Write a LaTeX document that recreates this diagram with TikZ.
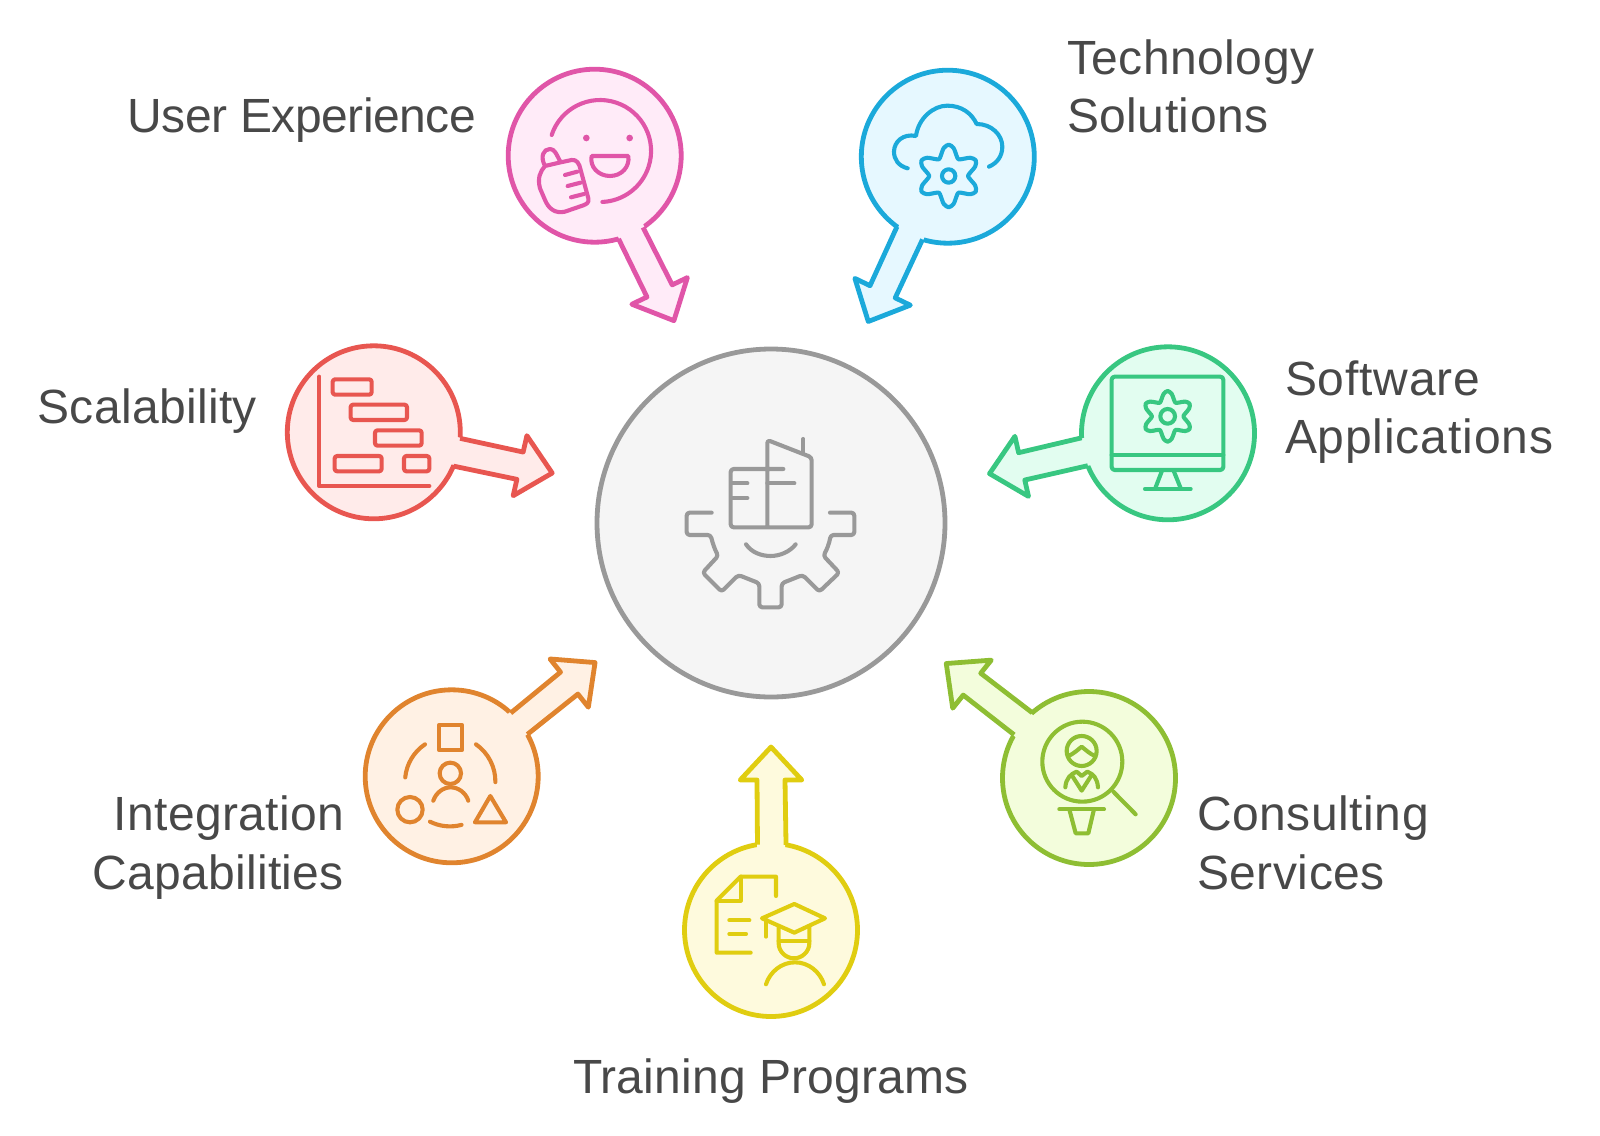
\documentclass[tikz,border=0pt]{standalone}
\usepackage{fontspec}
\setmainfont{Liberation Sans}
\definecolor{pinkline}{HTML}{E055A8}
\definecolor{pinkfill}{HTML}{FFEBF8}
\definecolor{blueline}{HTML}{1BA9DA}
\definecolor{bluefill}{HTML}{E6F8FF}
\definecolor{redline}{HTML}{E85650}
\definecolor{redfill}{HTML}{FFEBEA}
\definecolor{greenline}{HTML}{38C781}
\definecolor{greenfill}{HTML}{E2FDF0}
\definecolor{orangeline}{HTML}{E0842E}
\definecolor{orangefill}{HTML}{FFF1E4}
\definecolor{limeline}{HTML}{8EBE33}
\definecolor{limefill}{HTML}{F3FDDC}
\definecolor{yellowline}{HTML}{E0CD10}
\definecolor{yellowfill}{HTML}{FEFADD}
\definecolor{hubline}{HTML}{999999}
\definecolor{hubfill}{HTML}{F5F5F5}
\definecolor{labeltext}{HTML}{484848}
\tikzset{
  satellite/.style={circle,draw,inner sep=0pt,outer sep=0pt,minimum size=173pt,line width=4.8pt},
  hubnode/.style={circle,draw=hubline,fill=hubfill,inner sep=0pt,outer sep=0pt,minimum size=348pt,line width=4.8pt},
  lbl/.style={inner sep=0pt,outer sep=0pt,text=labeltext,font=\fontsize{48}{58.5}\selectfont\addfontfeature{LetterSpace=#1}},
  icon/.style n args={3}{shift={(#1,-#2)},x=0.3333pt,y=-0.3333pt,color=#3,line width=4.1pt,line cap=round,line join=round}
}
\newcommand{\satarrow}[3]{
  \pgfmathanglebetweenpoints{\pgfpointanchor{#1}{center}}{\pgfpointanchor{hub}{center}}
  \let\arrowangle\pgfmathresult
  \pgfmathsetmacro\angleup{\arrowangle+9.3}
  \pgfmathsetmacro\angledown{\arrowangle-9.3}
  \begin{scope}[shift={(#1.center)},rotate=\arrowangle]
    \fill[#3] (80,14) -- (150,14) -- (150,30.8) -- (183,0) -- (150,-30.8) -- (150,-14) -- (80,-14) -- cycle;
    \draw[#2,line width=4.8pt,line join=round] (#1.\angleup) -- (150,14) -- (150,30.8) -- (183,0) -- (150,-30.8) -- (150,-14) -- (#1.\angledown);
  \end{scope}
}
\newcommand{\gearicon}[5]{
  \draw plot[smooth cycle,samples at={0,10,...,350}] ({#1+(#3+#4)/2*cos(\x)+(#3-#4)/2*cos(6*(\x-90))*cos(\x)},{#2+(#3+#4)/2*sin(\x)+(#3-#4)/2*cos(6*(\x-90))*sin(\x)});
  \draw (#1,#2) circle (#5);
}
\begin{document}
\begin{tikzpicture}[x=1pt,y=1pt]
    \useasboundingbox (0,0) rectangle (1600,-1135);
    \node [hubnode] (hub) at (771,-523) {};
    \node [satellite,draw=pinkline,fill=pinkfill] (userexp) at (594.7,-155.7) {};
    \node [satellite,draw=blueline,fill=bluefill] (techsol) at (947.8,-156.7) {};
    \node [satellite,draw=redline,fill=redfill] (scale) at (373.8,-432.3) {};
    \node [satellite,draw=greenline,fill=greenfill] (softapp) at (1168,-433.3) {};
    \node [satellite,draw=orangeline,fill=orangefill] (integ) at (451.7,-776.3) {};
    \node [satellite,draw=limeline,fill=limefill] (consult) at (1089,-778) {};
    \node [satellite,draw=yellowline,fill=yellowfill] (train) at (771,-930) {};
    \satarrow{userexp}{pinkline}{pinkfill}
    \satarrow{techsol}{blueline}{bluefill}
    \satarrow{scale}{redline}{redfill}
    \satarrow{softapp}{greenline}{greenfill}
    \satarrow{integ}{orangeline}{orangefill}
    \satarrow{consult}{limeline}{limefill}
    \satarrow{train}{yellowline}{yellowfill}
    \node [lbl=-1,anchor=east] (userexplabel) at (476,-120) {User Experience};
    \node [lbl=1.06,anchor=west,align=left] (techsollabel) at (1067,-86.5) {Technology\\Solutions};
    \node [lbl=0.7,anchor=east] (scalelabel) at (257,-411) {Scalability};
    \node [lbl=1.77,anchor=west,align=left] (softapplabel) at (1285,-412) {Software\\Applications};
    \node [lbl=0.7,anchor=east,align=right] (integlabel) at (344,-847.5) {Integration\\Capabilities};
    \node [lbl=1.15,anchor=west,align=left] (consultlabel) at (1197,-843) {Consulting\\Services};
    \node [lbl=0.4] (trainlabel) at (771,-1081) {Training Programs};
    \begin{scope}[icon={490}{50}{pinkline}]
      \draw (185,255) arc (-161.7:87.4:153);
      \fill (289,264) circle (10);
      \fill (419,264) circle (10);
      \draw (305,318) -- (415,318) .. controls (420,350) and (395,378) .. (360,378) .. controls (325,378) and (298,350) .. cycle;
      \draw (165,348) .. controls (150,320) and (160,297) .. (180,297) .. controls (195,297) and (200,315) .. (212,337) -- (245,330) .. controls (260,328) and (268,340) .. (272,360) -- (295,445) .. controls (298,458) and (290,462) .. (280,466) -- (225,485) .. controls (195,492) and (175,475) .. (165,450) -- (150,415) .. controls (142,385) and (150,365) .. (165,348) -- (212,337);
      \draw (225,375) -- (262,365);
      \draw (233,408) -- (272,398);
      \draw (243,442) -- (282,432);
    \end{scope}
    \begin{scope}[icon={840}{50}{blueline}]
      \draw (203,355) .. controls (175,348) and (162,328) .. (162,305) .. controls (162,275) and (190,250) .. (228,258) .. controls (235,205) and (280,167) .. (322,167) .. controls (365,167) and (395,190) .. (410,222) .. controls (455,222) and (487,255) .. (487,290) .. controls (487,320) and (470,340) .. (447,350);
      \gearicon{326}{378}{94}{58}{20}
    \end{scope}
    \begin{scope}[icon={270}{330}{redline}]
      \draw (148,140) -- (148,468) -- (478,468);
      \draw [rounded corners=2.5pt] (188,148) rectangle (305,194);
      \draw [rounded corners=2.5pt] (242,224) rectangle (411,270);
      \draw [rounded corners=2.5pt] (315,301) rectangle (455,347);
      \draw [rounded corners=2.5pt] (194,378) rectangle (335,424);
      \draw [rounded corners=2.5pt] (402,378) rectangle (478,424);
    \end{scope}
    \begin{scope}[icon={980}{330}{greenline}]
      \draw [rounded corners=3pt] (395,140) rectangle (730,420);
      \draw (395,375) -- (730,375);
      \draw (545,425) -- (525,477);
      \draw (582,425) -- (603,477);
      \draw (495,477) -- (632,477);
      \gearicon{563}{259}{76}{47}{22}
    \end{scope}
    \begin{scope}[icon={350}{650}{orangeline}]
      \draw (266,226) rectangle (337,299);
      \draw (225,283) arc (-123.8:-174.5:135);
      \draw (378,283) arc (-55.1:0.8:136);
      \draw (240,515) arc (116.6:75:134);
      \draw (301,370) circle (32);
      \draw (250,452) .. controls (258,428) and (280,412) .. (302,412) .. controls (325,412) and (347,428) .. (355,452);
      \draw (180,479) circle (38);
      \draw (421,438) -- (375,517) -- (468,517) -- cycle;
    \end{scope}
    \begin{scope}[icon={940}{650}{limeline}]
      \draw (427,335) circle (120);
      \draw (520,425) -- (587,493);
      \draw (425,303) circle (45);
      \draw (385,318) .. controls (400,312) and (415,298) .. (425,290) .. controls (435,298) and (450,312) .. (465,318);
      \draw (376,412) .. controls (378,385) and (392,372) .. (410,365) -- (425,378) -- (442,365) .. controls (460,372) and (472,385) .. (474,412);
      \draw (395,375) -- (425,422) -- (455,375);
      \draw (358,478) -- (492,478);
      \draw (388,478) -- (407,550) -- (445,550) -- (462,478);
    \end{scope}
    \begin{scope}[icon={670}{740}{yellowline}]
      \draw (318,468) -- (318,410) -- (212,410) -- (140,482) -- (140,638) -- (242,638);
      \draw (212,410) -- (212,482) -- (140,482);
      \draw (178,541) -- (238,541);
      \draw (178,582) -- (228,582);
      \draw (276,535) -- (373,492) -- (465,535) -- (373,578) -- cycle;
      \draw (288,545) -- (288,590);
      \draw (326,562) -- (326,610) .. controls (326,635) and (348,655) .. (372,655) .. controls (396,655) and (418,635) .. (418,610) -- (418,562);
      \draw (326,604) -- (418,604);
      \draw (288,733) .. controls (300,695) and (335,667) .. (375,667) .. controls (415,667) and (450,695) .. (462,733);
    \end{scope}
    \begin{scope}[icon={660}{420}{hubline}]
      \draw [rounded corners=3pt] (155,278) -- (80,278) -- (80,345) -- (152,345) .. controls (158,370) and (165,390) .. (175,407) -- (128,458) -- (185,515) -- (235,465) -- (298,490) -- (298,562) -- (365,562) -- (365,490) -- (428,465) -- (478,515) -- (538,458) -- (490,407) .. controls (500,390) and (508,370) .. (512,345) -- (583,345) -- (583,278) -- (510,278);
      \draw (258,373) .. controls (275,398) and (305,408) .. (332,408) .. controls (360,408) and (390,395) .. (407,373);
      \draw [rounded corners=3pt] (370,147) -- (212,147) -- (212,322) -- (455,322) -- (455,112) -- (322,60) -- (322,322);
      \draw (215,190) -- (262,190);
      \draw (215,234) -- (262,234);
      \draw (322,190) -- (403,190);
      \draw (430,57) -- (430,100);
    \end{scope}
\end{tikzpicture}
\end{document}
